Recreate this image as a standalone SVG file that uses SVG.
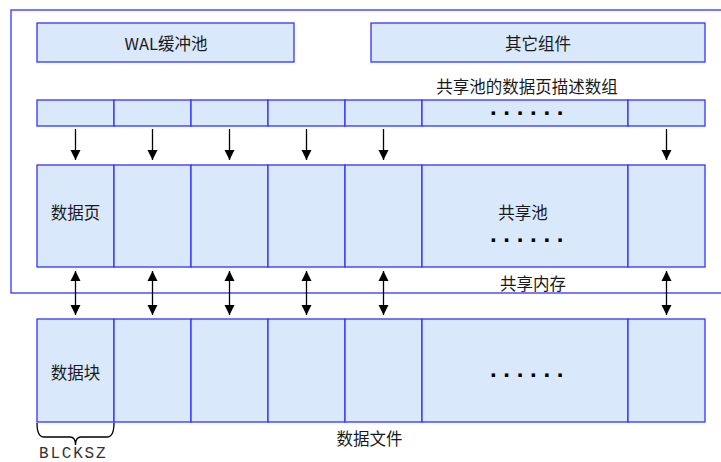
<svg xmlns="http://www.w3.org/2000/svg" width="721" height="462" viewBox="0 0 721 462">
<style>
.box{fill:#dae8fc;stroke:#3333ff;stroke-width:1.3}
.frame{fill:none;stroke:#3333ff;stroke-width:1.3}
.t{font-family:"Noto Sans CJK SC","Noto Sans",sans-serif;font-size:16.5px;fill:#1a1a1a;text-anchor:middle;dominant-baseline:central}
.dots{font-family:"Liberation Sans",sans-serif;font-size:24px;font-weight:bold;fill:#000;letter-spacing:6.7px}
.mono{font-family:"Liberation Mono",monospace;font-size:16px;fill:#333;letter-spacing:1.8px}
.c{stroke:#000;stroke-width:1.3;fill:none}
</style>
<defs>
<marker id="ah" viewBox="0 0 10 14" refX="10" refY="7" markerWidth="10" markerHeight="14" markerUnits="userSpaceOnUse" orient="auto">
<path d="M0,2 L10,7 L0,12 Z" fill="#000"/>
</marker>
<marker id="ahs" viewBox="0 0 10 14" refX="0" refY="7" markerWidth="10" markerHeight="14" markerUnits="userSpaceOnUse" orient="auto">
<path d="M10,2 L0,7 L10,12 Z" fill="#000"/>
</marker>
</defs>
<g id="shared-memory">
<rect class="frame" x="11" y="10" width="730" height="283"/>
<text class="t" x="533" y="283">共享内存</text>
</g>
<g id="wal-buffer">
<rect class="box" x="37" y="23" width="257" height="39"/>
<text class="t" x="166" y="43">WAL缓冲池</text>
</g>
<g id="other-components">
<rect class="box" x="371" y="23" width="334" height="39"/>
<text class="t" x="538" y="43">其它组件</text>
</g>
<g id="descriptor-array">
<text class="t" x="527" y="86">共享池的数据页描述数组</text>
<rect class="box" x="37" y="100" width="77" height="26"/>
<rect class="box" x="114" y="100" width="77" height="26"/>
<rect class="box" x="191" y="100" width="77" height="26"/>
<rect class="box" x="268" y="100" width="77" height="26"/>
<rect class="box" x="345" y="100" width="77" height="26"/>
<rect class="box" x="422" y="100" width="206" height="26"/>
<rect class="box" x="628" y="100" width="77" height="26"/>
<text class="dots" x="490" y="115">......</text>
</g>
<g id="shared-pool">
<rect class="box" x="37" y="165" width="77" height="102"/>
<rect class="box" x="114" y="165" width="77" height="102"/>
<rect class="box" x="191" y="165" width="77" height="102"/>
<rect class="box" x="268" y="165" width="77" height="102"/>
<rect class="box" x="345" y="165" width="77" height="102"/>
<rect class="box" x="422" y="165" width="206" height="102"/>
<rect class="box" x="628" y="165" width="77" height="102"/>
<text class="t" x="75.5" y="212">数据页</text>
<text class="t" x="523" y="212">共享池</text>
<text class="dots" x="490" y="242">......</text>
</g>
<g id="data-file">
<rect class="box" x="37" y="319" width="77" height="103"/>
<rect class="box" x="114" y="319" width="77" height="103"/>
<rect class="box" x="191" y="319" width="77" height="103"/>
<rect class="box" x="268" y="319" width="77" height="103"/>
<rect class="box" x="345" y="319" width="77" height="103"/>
<rect class="box" x="422" y="319" width="206" height="103"/>
<rect class="box" x="628" y="319" width="77" height="103"/>
<text class="t" x="75.5" y="372">数据块</text>
<text class="dots" x="490" y="377">......</text>
<text class="t" x="369.5" y="438">数据文件</text>
</g>
<g id="blcksz">
<path class="c" stroke-width="1.2" d="M37,423 Q37,437 44,437 L70,437 Q75.5,437 75.5,445 Q75.5,437 81,437 L107,437 Q114,437 114,423"/>
<text class="mono" x="39" y="458">BLCKSZ</text>
</g>
<g id="connectors">
<path class="c" marker-end="url(#ah)" d="M75.5,129 V160"/>
<path class="c" marker-end="url(#ah)" d="M152.5,129 V160"/>
<path class="c" marker-end="url(#ah)" d="M229.5,129 V160"/>
<path class="c" marker-end="url(#ah)" d="M306.5,129 V160"/>
<path class="c" marker-end="url(#ah)" d="M383.5,129 V160"/>
<path class="c" marker-end="url(#ah)" d="M666.5,129 V160"/>
<path class="c" marker-start="url(#ahs)" marker-end="url(#ah)" d="M75.5,271 V315"/>
<path class="c" marker-start="url(#ahs)" marker-end="url(#ah)" d="M152.5,271 V315"/>
<path class="c" marker-start="url(#ahs)" marker-end="url(#ah)" d="M229.5,271 V315"/>
<path class="c" marker-start="url(#ahs)" marker-end="url(#ah)" d="M306.5,271 V315"/>
<path class="c" marker-start="url(#ahs)" marker-end="url(#ah)" d="M383.5,271 V315"/>
<path class="c" marker-start="url(#ahs)" marker-end="url(#ah)" d="M666.5,271 V315"/>
</g>
</svg>
